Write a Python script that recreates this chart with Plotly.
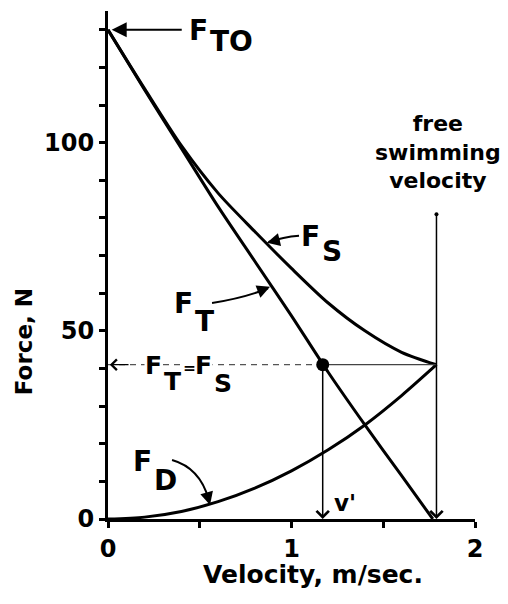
import plotly.graph_objects as go

# ---- values ----
# propulsive thrust F_T (N) vs velocity (m/s)
v_thrust = [0, 0.2, 0.4, 0.6, 0.8, 1.0, 1.2, 1.4, 1.6, 1.77]
f_thrust = [130, 114, 98.5, 83, 68.5, 54, 39, 25, 11.5, 0]

# F_S and drag F_D share the same velocity samples
v_curve = [0, 0.2, 0.4, 0.6, 0.8, 1.0, 1.2, 1.4, 1.6, 1.79]
f_swim = [130, 114.3, 99.2, 86.6, 76.4, 66.6, 57.4, 50, 44.3, 41]
f_drag = [0, 0.5, 2, 4.6, 8.2, 12.8, 18.4, 25, 32.8, 41]

f_to = 130          # static thrust
v_prime = 1.17      # v'
v_free = 1.79       # free swimming velocity
f_equal = 41        # F_T = F_S level
f_free_top = 81     # top of the free swimming velocity marker

x_ticks = [0, 0.5, 1, 1.5, 2]
x_ticklabels = ["0", "", "1", "", "2"]
y_ticks = [0, 10, 20, 30, 40, 50, 60, 70, 80, 90, 100, 110, 120, 130]
y_ticklabels = ["0", "", "", "", "", "50", "", "", "", "", "100", "", "", ""]

FONT = "DejaVu Sans"
INK = "black"

fig = go.Figure()

curve = dict(color=INK, width=3, shape="spline", smoothing=0.8)
fig.add_trace(go.Scatter(x=v_thrust, y=f_thrust, mode="lines", line=curve, cliponaxis=False))
fig.add_trace(go.Scatter(x=v_curve, y=f_swim, mode="lines", line=curve, cliponaxis=False))
fig.add_trace(go.Scatter(x=v_curve, y=f_drag, mode="lines", line=curve, cliponaxis=False))

# construction lines
fig.add_trace(go.Scatter(x=[0, v_prime], y=[f_equal, f_equal], mode="lines",
                         line=dict(color="#555", width=1.2, dash="6px,5px")))
fig.add_trace(go.Scatter(x=[v_prime, v_free], y=[f_equal, f_equal], mode="lines",
                         line=dict(color="#444", width=1.2)))
fig.add_trace(go.Scatter(x=[v_free], y=[f_free_top], mode="markers",
                         marker=dict(color=INK, size=4)))
fig.add_trace(go.Scatter(x=[v_prime], y=[f_equal], mode="markers",
                         marker=dict(color=INK, size=13)))

anns = []


def arrow(x, y, ax, ay, head, width, size, ref="x"):
    d = dict(x=x, y=y, ax=ax, ay=ay, text="", showarrow=True, arrowhead=head,
             arrowwidth=width, arrowsize=size, arrowcolor=INK, standoff=0)
    if ref == "x":
        d.update(axref="x", ayref="y")
    anns.append(d)


def text(x, y, s, size, dx=0, dy=0, anchor="left", bg=None):
    d = dict(x=x, y=y, text=s, showarrow=False, xanchor=anchor, yanchor="middle",
             xshift=dx, yshift=dy, borderpad=0,
             font=dict(family=FONT, size=size, color=INK, weight="bold"))
    if bg:
        d.update(bgcolor=bg)
    anns.append(d)


def sub_label(x, y, main, sub, size, dy, bg=None):
    # main letter ends at x, subscript starts there, dropped by dy pixels
    text(x, y, main, size, anchor="right", bg=bg)
    text(x, y, sub, size, dy=-dy, bg=bg)


# vertical arrows (v' and free swimming velocity)
arrow(v_prime, 0, v_prime, f_equal, 4, 1.5, 1.6)
arrow(v_free, 0, v_free, f_free_top, 4, 1.5, 1.6)
# F_T = F_S arrow to the force axis
arrow(0.01, f_equal, 0.12, f_equal, 4, 1.3, 1.6)
# F_TO arrow
arrow(0.02, f_to, 0.41, f_to, 2, 2, 1.5)

# curved label leaders (shafts as paths, heads as short arrows)
leaders = [
    ("M 1.041,75.3 Q 0.954,75.0 0.875,73.6", (0.866, 73.4), (14, -3.5)),
    ("M 0.567,57.4 Q 0.747,58.8 0.872,61.3", (0.883, 61.7), (-14, 5.6)),
    ("M 0.349,15.7 Q 0.501,13.6 0.548,5.3", (0.556, 3.7), (-3.5, -13)),
]
shapes = []
for path, (hx, hy), (tx, ty) in leaders:
    shapes.append(dict(type="path", path=path, xref="x", yref="y",
                       line=dict(color=INK, width=2)))
    arrow(hx, hy, tx, ty, 2, 2, 1.3, ref="pixel")

# labels with subscripts
sub_label(0.550, 129.8, "F", "TO", 28, 11)
sub_label(1.161, 75.0, "F", "S", 28, 15)
sub_label(0.469, 57.4, "F", "T", 28, 18)
sub_label(0.245, 15.4, "F", "D", 28, 19)

sub_label(0.300, 40.7, "F", "T", 25, 16, bg="white")
text(0.443, 40.2, "=", 16, anchor="center", bg="white")
sub_label(0.572, 40.7, "F", "S", 25, 18, bg="white")

text(1.292, 4.3, "v'", 23, anchor="center")
text(1.800, 97.6, "free<br>swimming<br>velocity", 22, anchor="center")

# axis titles
anns.append(dict(x=0.559, y=-0.110, xref="paper", yref="paper", text="Velocity, m/sec.",
                 showarrow=False, xanchor="center", yanchor="middle",
                 font=dict(family=FONT, size=25, color=INK, weight="bold")))
anns.append(dict(x=-0.229, y=0.35, xref="paper", yref="paper", text="Force, N",
                 showarrow=False, xanchor="center", yanchor="middle", textangle=-90,
                 font=dict(family=FONT, size=23, color=INK, weight="bold")))

axis = dict(showgrid=False, zeroline=False, showline=True, linecolor=INK, linewidth=3,
            ticks="outside", ticklen=6, tickwidth=2.5, tickcolor=INK,
            tickfont=dict(family=FONT, size=24, color=INK, weight="bold"))

# the page adds an 8px body margin, so the figure is 8px smaller than the window
fig.update_layout(
    width=500, height=596,
    margin=dict(l=100, r=33, t=3, b=85),
    paper_bgcolor="white", plot_bgcolor="white",
    showlegend=False,
    xaxis=dict(range=[0, 2], tickvals=x_ticks, ticktext=x_ticklabels, **axis),
    yaxis=dict(range=[0, 135], tickvals=y_ticks, ticktext=y_ticklabels, **axis),
    annotations=anns,
    shapes=shapes,
)

fig.write_html("out.html")
